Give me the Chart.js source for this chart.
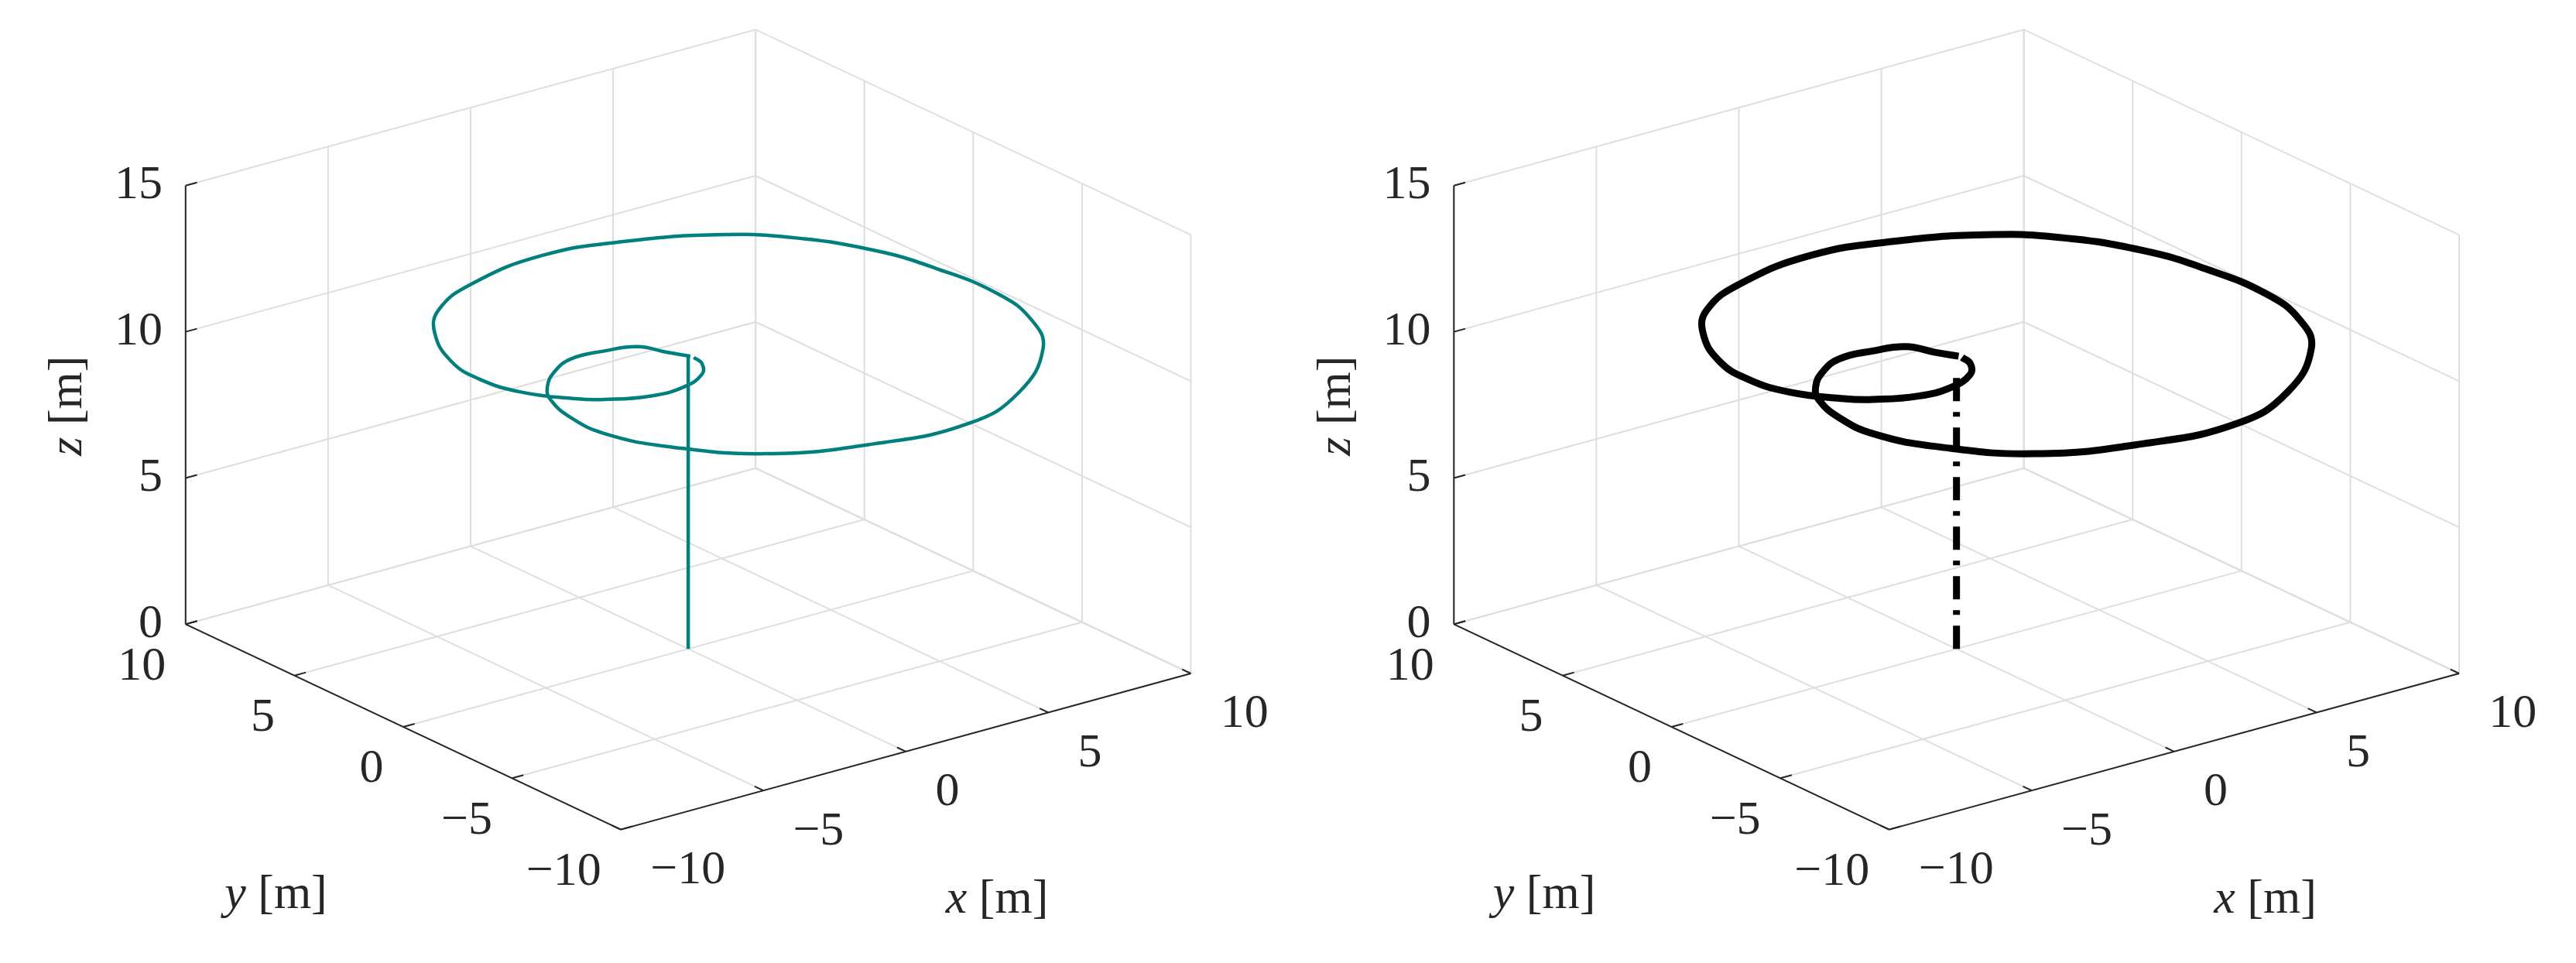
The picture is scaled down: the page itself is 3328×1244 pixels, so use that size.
<!DOCTYPE html>
<html>
<head>
<meta charset="utf-8">
<script src="https://cdn.jsdelivr.net/npm/chart.js@4.4.1/dist/chart.umd.min.js"></script>
<style>
body { margin: 0; background: #fff; }
.panel { position: absolute; top: 0; width: 1664px; height: 1244px; }
</style>
</head>
<body>
<div class="panel" style="left:0"><canvas id="left" width="1664" height="1244"></canvas></div>
<div class="panel" style="left:1664px"><canvas id="right" width="1664" height="1244"></canvas></div>
<script>
// tick values
let xyTicks = [-10, -5, 0, 5, 10]
let zTicks = [0, 5, 10, 15]

// spiral path (metres)
let spiralX = [0.06, -0.28, -0.66, -1.60, -2.70, -3.68, -4.57, -5.10, -5.49, -5.49, -4.71, -2.84, 0.01, 3.10, 5.66, 8.26, 9.34, 9.82, 9.65, 9.12, 7.89, 6.35, 4.02, 1.52, -1.39, -3.34, -4.52, -5.49, -5.70, -5.38, -4.49, -3.88, -2.71, -1.55, -0.53, -0.04, 0.08]
let spiralY = [-0.02, 0.62, 1.46, 1.75, 1.83, 1.32, 0.49, -0.36, -1.83, -3.34, -5.18, -7.31, -8.52, -8.86, -7.79, -5.49, -3.55, -1.40, 1.24, 3.41, 5.60, 7.02, 8.16, 8.69, 8.13, 7.09, 5.73, 3.70, 2.10, 0.61, -0.70, -1.24, -1.80, -1.81, -1.33, -0.69, -0.15]
let spiralZ = [10, 10, 10, 10, 10, 10, 10, 10, 10, 10, 10, 10, 10, 10, 10, 10, 10, 10, 10, 10, 10, 10, 10, 10, 10, 10, 10, 10, 10, 10, 10, 10, 10, 10, 10, 10, 10]

// vertical climb from the ground
let climbLeftZ = [0, 10]
let climbRightZ = [0, 9.4]

// fixed 3-D view (MATLAB default az -37.5, el 30), in picture units
function proj(o, x, y, z) {
    return {
        x: o.ox + 17.35 * (x + 10) - 13.25 * (y + 10),
        y: -(o.oy - 4.75 * (x + 10) - 6.25 * (y + 10) - 17.8 * z)
    }
}

function seg(o, pts, color, width, order) {
    return {
        data: pts.map(p => proj(o, p[0], p[1], p[2])),
        borderColor: color, borderWidth: width, pointRadius: 0,
        showLine: true, tension: 0, order: order
    }
}

function buildDatasets(o, lineColor, lineWidth, climbZ, dash) {
    let ds = []
    let grid = '#dedede'
    let ink = '#262626'
    xyTicks.forEach(v => {
        ds.push(seg(o, [[v, -10, 0], [v, 10, 0]], grid, 2, 10))
        ds.push(seg(o, [[-10, v, 0], [10, v, 0]], grid, 2, 10))
        ds.push(seg(o, [[v, 10, 0], [v, 10, 15]], grid, 2, 10))
        ds.push(seg(o, [[10, v, 0], [10, v, 15]], grid, 2, 10))
    })
    zTicks.forEach(z => {
        ds.push(seg(o, [[-10, 10, z], [10, 10, z], [10, -10, z]], grid, 2, 10))
    })
    ds.push(seg(o, [[-10, 10, 0], [-10, 10, 15]], ink, 2, 5))
    ds.push(seg(o, [[-10, 10, 0], [-10, -10, 0]], ink, 2, 5))
    ds.push(seg(o, [[-10, -10, 0], [10, -10, 0]], ink, 2, 5))
    // tick marks
    zTicks.forEach(z => ds.push(seg(o, [[-10, 10, z], [-9.6, 10, z]], ink, 2, 5)))
    xyTicks.forEach(v => {
        ds.push(seg(o, [[-10, v, 0], [-9.6, v, 0]], ink, 2, 5))
        ds.push(seg(o, [[v, -10, 0], [v, -9.6, 0]], ink, 2, 5))
    })
    let climb = seg(o, climbZ.map(z => [0, 0, z]), lineColor, lineWidth, 1)
    if (dash) climb.borderDash = dash
    ds.push(climb)
    ds.push({
        data: spiralX.map((x, i) => proj(o, x, spiralY[i], spiralZ[i])),
        borderColor: lineColor, borderWidth: lineWidth, pointRadius: 0,
        showLine: true, tension: 0.45, order: 0
    })
    return ds
}

function labelPlugin(o) {
    return {
        id: 'labels3d',
        afterDraw(chart) {
            let ctx = chart.ctx
            let sx = chart.scales.x, sy = chart.scales.y
            let px = (p, dx, dy) => [sx.getPixelForValue(p.x + dx), sy.getPixelForValue(p.y - dy)]
            let f = '62px "Liberation Serif"'
            let fi = 'italic 62px "Liberation Serif"'
            ctx.save()
            ctx.fillStyle = '#262626'
            ctx.font = f
            ctx.textBaseline = 'middle'
            let fmt = v => v < 0 ? '\u2212' + (-v) : '' + v
            ctx.textAlign = 'right'
            zTicks.forEach(z => {
                let [x, y] = px(proj(o, -10, 10, z), -14, 0)
                ctx.fillText(fmt(z), x, y)
            })
            xyTicks.forEach(v => {
                let [x, y] = px(proj(o, -10, v, 0), -12, 26)
                ctx.fillText(fmt(v), x, y)
            })
            ctx.textAlign = 'left'
            xyTicks.forEach(v => {
                let [x, y] = px(proj(o, v, -10, 0), 18, 25)
                ctx.fillText(fmt(v), x, y)
            })
            let title = (letter, x, y, rot) => {
                ctx.save()
                ctx.translate(x, y)
                ctx.rotate(rot)
                ctx.font = fi
                let w1 = ctx.measureText(letter).width
                ctx.font = f
                let w2 = ctx.measureText(' [m]').width
                ctx.textAlign = 'left'
                ctx.font = fi
                ctx.fillText(letter, -(w1 + w2) / 2, 0)
                ctx.font = f
                ctx.fillText(' [m]', -(w1 + w2) / 2 + w1, 0)
                ctx.restore()
            }
            let t = px({ x: o.ox - 336, y: -247 }, 0, 0)
            title('z', t[0], t[1], -Math.PI / 2)
            t = px({ x: o.ox - 210, y: -545 }, 0, 0)
            title('y', t[0], t[1], 0)
            t = px({ x: o.ox + 229, y: -548 }, 0, 0)
            title('x', t[0], t[1], 0)
            ctx.restore()
        }
    }
}

function makeChart(id, o, color, width, climbZ, dash) {
    return new Chart(document.getElementById(id).getContext('2d'), {
        type: 'scatter',
        data: { datasets: buildDatasets(o, color, width, climbZ, dash) },
        options: {
            responsive: false,
            animation: false,
            devicePixelRatio: 1,
            layout: { padding: 0 },
            plugins: { legend: { display: false }, tooltip: { enabled: false } },
            scales: {
                x: { type: 'linear', display: false, min: 0, max: 1664 / 2.122 },
                y: { type: 'linear', display: false, min: -1244 / 2.122, max: 0 }
            }
        },
        plugins: [labelPlugin(o)]
    })
}

let leftView = { ox: 378, oy: 505 }
let rightView = { ox: 366, oy: 505 }
makeChart('left', leftView, '#007f7f', 4.5, climbLeftZ, null)
makeChart('right', rightView, '#000000', 9, climbRightZ, [30, 14, 6, 14])
</script>
</body>
</html>
